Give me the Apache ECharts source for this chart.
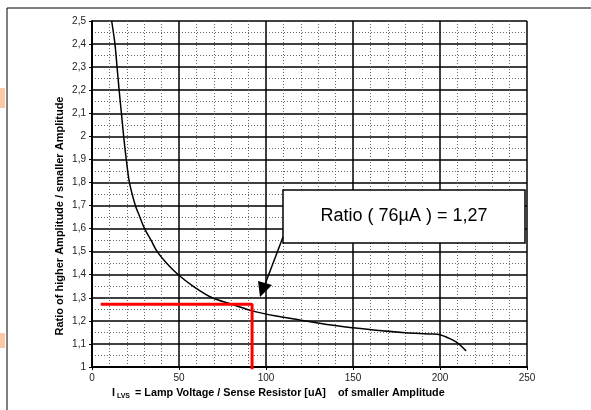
<!DOCTYPE html>
<html><head><meta charset="utf-8">
<script src="https://cdn.jsdelivr.net/npm/echarts@6/dist/echarts.min.js"></script>
<style>html,body{margin:0;padding:0;background:#fff}#c{width:591px;height:410px}</style>
</head><body><div id="c"></div>
<script>
const curveX = [11.3,13.2,14.4,15.6,16.9,18.2,19.7,21.5,24.9,27.0,30.2,33.9,37.5,42.9,49.6,58.2,69.1,80.3,93.7,105,120,135,150,165,180,195,200,205,210,215];
const curveY = [2.5,2.4,2.3,2.2,2.1,2.0,1.9,1.8,1.7,1.66,1.6,1.55,1.5,1.45,1.4,1.35,1.3,1.272,1.24,1.222,1.203,1.184,1.17,1.158,1.149,1.143,1.14,1.125,1.105,1.07];
const markerX = [5, 92, 92];
const markerY = [1.272, 1.272, 0.99];
const xTicks = [0,50,100,150,200,250];
const annotationText = 'Ratio ( 76µA ) = 1,27';
const yName = 'Ratio of higher Amplitude / smaller Amplitude';

const chart = echarts.init(document.getElementById('c'), null, {renderer:'canvas'});
const font = 'Liberation Sans, Arial, sans-serif';
chart.setOption({
  animation:false,
  grid:{left:92,right:64,top:21,bottom:43,show:false},
  xAxis:{type:'value',min:0,max:250,interval:50,
    axisLine:{show:true,onZero:false,lineStyle:{color:'#000',width:2}},
    axisTick:{show:true,length:3,lineStyle:{color:'#000'}},
    axisLabel:{color:'#222',fontSize:10,fontFamily:font,margin:6,
      formatter:v=>xTicks.includes(v)?String(v):''},
    splitLine:{show:true,lineStyle:{color:'#000',width:1.5}},
    minorTick:{show:false,splitNumber:5},
    minorSplitLine:{show:true,lineStyle:{color:'#666',width:1,type:[1,2]}}
  },
  yAxis:{type:'value',min:1,max:2.5,interval:0.1,
    axisLine:{show:true,lineStyle:{color:'#000',width:2}},
    axisTick:{show:true,length:3,lineStyle:{color:'#000'}},
    axisLabel:{color:'#222',fontSize:10,fontFamily:font,margin:6,
      formatter:v=>(Math.round(v*10)/10).toString().replace('.',',')},
    splitLine:{show:true,lineStyle:{color:'#000',width:1.5}},
    minorTick:{show:false,splitNumber:2},
    minorSplitLine:{show:true,lineStyle:{color:'#666',width:1,type:[1,2]}}
  },
  series:[
    {type:'line',data:curveX.map((x,i)=>[x,curveY[i]]),smooth:0.3,showSymbol:false,
     lineStyle:{color:'#000',width:1.5},clip:true},
    {type:'line',data:markerX.map((x,i)=>[x,markerY[i]]),showSymbol:false,clip:false,
     lineStyle:{color:'#ff0000',width:3},z:5}
  ],
  graphic:[
    {type:'line',shape:{x1:7,y1:8,x2:591,y2:8},style:{stroke:'#000',lineWidth:1}},
    {type:'line',shape:{x1:7,y1:8,x2:7,y2:410},style:{stroke:'#000',lineWidth:1}},
    {type:'rect',shape:{x:0,y:88,width:5,height:20},style:{fill:'#fbc9a6'}},
    {type:'rect',shape:{x:0,y:333,width:5,height:15},style:{fill:'#fbc9a6'}},
    {type:'rect',shape:{x:283,y:190,width:242,height:53},style:{fill:'#fff',stroke:'#000',lineWidth:1.5},z:10},
    {type:'text',x:404,y:216,z:11,style:{text:annotationText,font:'18px '+font,fill:'#000',align:'center',verticalAlign:'middle'}},
    {type:'line',shape:{x1:283,y1:237,x2:264,y2:287},style:{stroke:'#000',lineWidth:1.5},z:10},
    {type:'polygon',shape:{points:[[260,297],[258,281],[272,285]]},style:{fill:'#000'},z:10},
    {type:'text',x:60,y:216,rotation:Math.PI/2,z:10,
     style:{text:yName,font:'bold 11px '+font,fill:'#000',align:'center',verticalAlign:'middle'}},
    {type:'text',x:112,y:393,z:10,
     style:{text:'{a|I}{s| LVS}{a| = Lamp Voltage / Sense Resistor [uA]    of smaller Amplitude}',
       verticalAlign:'middle',align:'left',
       rich:{a:{font:'bold 10.8px '+font,fill:'#000'},s:{font:'bold 7px '+font,fill:'#000',padding:[6,2,0,0]}}}}
  ]
});
</script></body></html>
